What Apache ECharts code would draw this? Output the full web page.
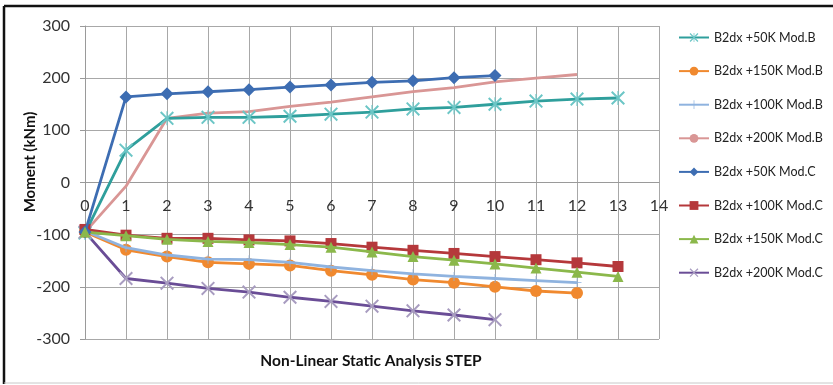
<!DOCTYPE html>
<html>
<head>
<meta charset="utf-8">
<script src="https://cdn.jsdelivr.net/npm/echarts@6/dist/echarts.min.js"></script>
<style>
  html, body { margin: 0; padding: 0; background: #fff; }
  #chart { width: 833px; height: 385px; }
</style>
</head>
<body>
<div id="chart"></div>
<script>
// Bending moment (kNm) per non-linear static analysis step
const xTicks = [0, 1, 2, 3, 4, 5, 6, 7, 8, 9, 10, 11, 12, 13, 14];
const yTicks = [-300, -200, -100, 0, 100, 200, 300];

const seriesNames = [
  'B2dx +50K Mod.B', 'B2dx +150K Mod.B', 'B2dx +100K Mod.B', 'B2dx +200K Mod.B',
  'B2dx +50K Mod.C', 'B2dx +100K Mod.C', 'B2dx +150K Mod.C', 'B2dx +200K Mod.C'
];

const b50ModB  = [-97, 62, 123, 125, 125, 127, 131, 135, 141, 144, 150, 156, 160, 162];
const b150ModB = [-95, -129, -142, -153, -156, -159, -169, -177, -186, -192, -200, -208, -212];
const b100ModB = [-93, -125, -139, -147, -148, -153, -162, -169, -175, -180, -184, -188, -192];
const b200ModB = [-95, -7, 123, 133, 136, 146, 154, 164, 174, 182, 193, 200, 207];
const b50ModC  = [-95, 164, 170, 174, 178, 183, 187, 192, 195, 201, 205];
const b100ModC = [-90, -101, -107, -107, -110, -112, -117, -124, -130, -136, -142, -148, -154, -161];
const b150ModC = [-95, -102, -109, -113, -115, -119, -124, -133, -142, -149, -156, -164, -172, -180];
const b200ModC = [-95, -184, -193, -203, -210, -220, -228, -237, -246, -254, -263];

// marker outlines built as filled shapes
const crossX   = 'path://M1,0 L5,4 L9,0 L10,1 L6,5 L10,9 L9,10 L5,6 L1,10 L0,9 L4,5 L0,1 Z';
const asterisk = 'path://M1,0 L5,4 L9,0 L10,1 L6,5 L10,9 L9,10 L5,6 L1,10 L0,9 L4,5 L0,1 Z M4.6,0 L5.4,0 L5.4,10 L4.6,10 Z';
const plus     = 'path://M4.6,0 L5.4,0 L5.4,4.6 L10,4.6 L10,5.4 L5.4,5.4 L5.4,10 L4.6,10 L4.6,5.4 L0,5.4 L0,4.6 L4.6,4.6 Z';

const toPairs = arr => arr.map((v, i) => [i, v]);

function lineSeries(name, values, lineColor, symbol, symbolSize, markerColor, z) {
  return {
    name: name,
    type: 'line',
    data: toPairs(values),
    symbol: symbol,
    symbolSize: symbolSize,
    showSymbol: symbol !== 'none',
    z: z,
    lineStyle: { color: lineColor, width: 2.8 },
    itemStyle: { color: markerColor || lineColor },
    emphasis: { disabled: true },
    animation: false
  };
}

const gridTop = 26, gridBottom = 46, chartH = 385;
// step axis sits on the zero line, i.e. halfway down the symmetric value range
const zeroOffset = -(chartH - gridTop - gridBottom) / 2;

const chart = echarts.init(document.getElementById('chart'), null, { renderer: 'canvas' });

chart.setOption({
  backgroundColor: '#ffffff',
  animation: false,
  textStyle: { fontFamily: 'Lato, "Open Sans", sans-serif' },
  graphic: [
    { type: 'line', shape: { x1: 4, y1: 6, x2: 833, y2: 6 }, style: { stroke: '#111', lineWidth: 2.5 }, silent: true },
    { type: 'line', shape: { x1: 4, y1: 6, x2: 4, y2: 384 }, style: { stroke: '#111', lineWidth: 2.5 }, silent: true },
    { type: 'line', shape: { x1: 4, y1: 383, x2: 833, y2: 383 }, style: { stroke: '#c8c8c8', lineWidth: 1 }, silent: true },
    {
      type: 'text', x: 371, y: 361, silent: true,
      style: {
        text: 'Non-Linear Static Analysis STEP', fill: '#111',
        font: 'bold 15.5px Lato, "Open Sans", sans-serif',
        textAlign: 'center', textVerticalAlign: 'middle'
      }
    },
    {
      type: 'text', x: 30, y: 162, rotation: Math.PI / 2, silent: true,
      style: {
        text: 'Moment (kNm)', fill: '#111',
        font: 'bold 15px Lato, "Open Sans", sans-serif',
        textAlign: 'center', textVerticalAlign: 'middle'
      }
    }
  ],
  grid: { left: 85, right: 174, top: gridTop, bottom: gridBottom, containLabel: false, outerBoundsMode: 'none' },
  legend: {
    orient: 'vertical',
    left: 673,
    top: 26,
    itemWidth: 30,
    itemHeight: 11,
    itemGap: 20.6,
    textStyle: { fontSize: 12.5, color: '#222', fontFamily: 'Lato, "Open Sans", sans-serif' },
    data: seriesNames
  },
  xAxis: {
    type: 'value',
    position: 'bottom',
    offset: zeroOffset,
    min: xTicks[0],
    max: xTicks[xTicks.length - 1],
    interval: 1,
    axisLine: { onZero: false, lineStyle: { color: '#9a9a9a', width: 1 } },
    axisTick: { show: false },
    axisLabel: { fontSize: 16, color: '#333', margin: 15 },
    splitLine: { show: true, lineStyle: { color: '#a8a8a8', width: 1 } }
  },
  yAxis: {
    type: 'value',
    min: yTicks[0],
    max: yTicks[yTicks.length - 1],
    interval: 100,
    axisLine: { show: true, onZero: false, lineStyle: { color: '#9a9a9a', width: 1 } },
    axisTick: { show: true, length: 5, lineStyle: { color: '#9a9a9a' } },
    axisLabel: { fontSize: 16, color: '#333', margin: 15 },
    splitLine: { show: true, lineStyle: { color: '#a8a8a8', width: 1 } }
  },
  series: [
    lineSeries(seriesNames[0], b50ModB,  '#2f9f9c', asterisk, 14, '#6cc6c6', 3),
    lineSeries(seriesNames[1], b150ModB, '#f0892f', 'circle', 12, '#f0892f', 3),
    lineSeries(seriesNames[2], b100ModB, '#8fb3df', plus, 9, '#8fb3df', 4),
    lineSeries(seriesNames[3], b200ModB, '#d99695', 'none', 6, '#d99695', 2),
    lineSeries(seriesNames[4], b50ModC,  '#3d6db2', 'diamond', 13, '#3d6db2', 5),
    lineSeries(seriesNames[5], b100ModC, '#b5383b', 'rect', 11, '#b5383b', 4),
    lineSeries(seriesNames[6], b150ModC, '#8bb84b', 'triangle', 11, '#8bb84b', 5),
    lineSeries(seriesNames[7], b200ModC, '#6a4d96', crossX, 14, '#a89cc0', 3)
  ]
});
</script>
</body>
</html>
